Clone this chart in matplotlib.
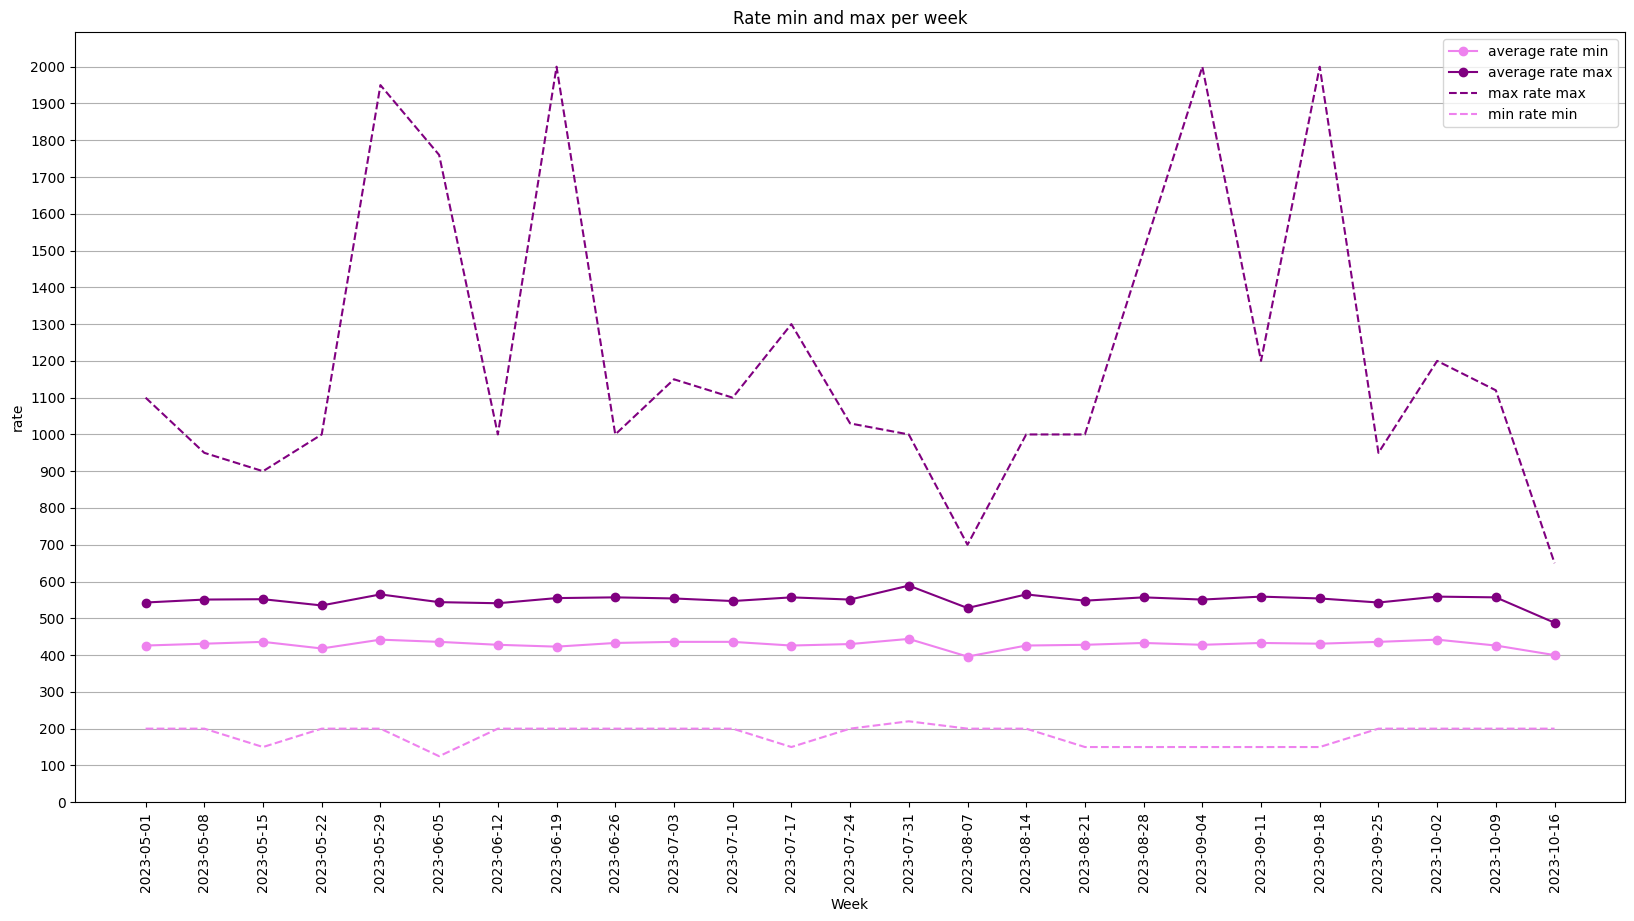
import matplotlib
matplotlib.use("Agg")
import matplotlib.pyplot as plt
import pandas as pd

weeks = ["2023-05-01", "2023-05-08", "2023-05-15", "2023-05-22", "2023-05-29",
         "2023-06-05", "2023-06-12", "2023-06-19", "2023-06-26", "2023-07-03",
         "2023-07-10", "2023-07-17", "2023-07-24", "2023-07-31", "2023-08-07",
         "2023-08-14", "2023-08-21", "2023-08-28", "2023-09-04", "2023-09-11",
         "2023-09-18", "2023-09-25", "2023-10-02", "2023-10-09", "2023-10-16"]

avg_rate_min = [426, 431, 436, 418, 442, 436, 428, 423, 433, 436,
                436, 426, 430, 444, 396, 426, 428, 433, 428, 433,
                431, 436, 442, 426, 400]
avg_rate_max = [543, 551, 552, 535, 565, 544, 541, 555, 557, 554,
                547, 557, 551, 589, 528, 565, 548, 557, 551, 559,
                554, 543, 559, 557, 488]
max_rate_max = [1100, 950, 900, 1000, 1950, 1760, 1000, 2000, 1000, 1150,
                1100, 1300, 1030, 1000, 700, 1000, 1000, 1500, 2000, 1200,
                2000, 950, 1200, 1120, 650]
min_rate_min = [200, 200, 150, 200, 200, 125, 200, 200, 200, 200,
                200, 150, 200, 220, 200, 200, 150, 150, 150, 150,
                150, 200, 200, 200, 200]

df = pd.DataFrame({"week": weeks, "avg_min": avg_rate_min, "avg_max": avg_rate_max,
                   "max_max": max_rate_max, "min_min": min_rate_min})

fig, ax = plt.subplots(figsize=(16.34, 9.21), dpi=100)

ax.plot(df["week"], df["avg_min"], marker="o", color="violet", label="average rate min")
ax.plot(df["week"], df["avg_max"], marker="o", color="purple", label="average rate max")
ax.plot(df["week"], df["max_max"], "--", color="purple", label="max rate max")
ax.plot(df["week"], df["min_min"], "--", color="violet", label="min rate min")

ax.set_ylim(bottom=0)
ax.set_yticks(range(0, 2001, 100))
ax.grid(axis="y")
ax.set_title("Rate min and max per week")
ax.set_xlabel("Week")
ax.set_ylabel("rate")
plt.xticks(rotation=90)
ax.legend(loc="upper right")

# match the reference margins
plt.subplots_adjust(left=0.046, right=0.9945, top=0.965, bottom=0.129)
plt.savefig("out.png")
